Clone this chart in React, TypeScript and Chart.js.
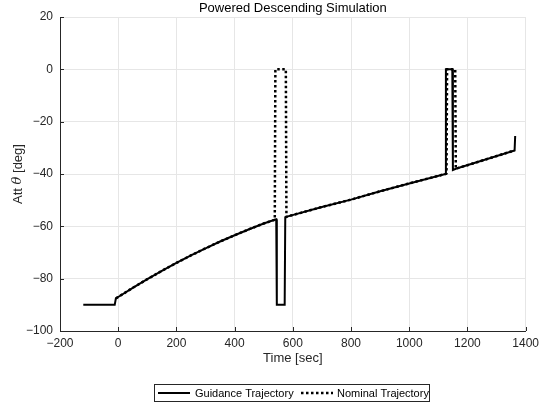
import React, { useEffect, useRef } from "react";
import { Chart, registerables } from "chart.js";

Chart.register(...registerables);

const guidanceTime = [-120, -12, -8, 0, 50, 100, 150, 200, 250, 300, 350, 400, 450, 500, 540, 543, 545, 572, 574, 580, 700, 800, 900, 1000, 1124, 1126, 1148, 1150, 1160, 1362, 1364];
const guidanceAtt = [-90, -90, -87.5, -87, -83.5, -80.2, -77.0, -74.0, -71.1, -68.4, -65.8, -63.4, -61.1, -58.9, -57.4, -57.3, -90, -90, -56.5, -56.3, -52.6, -49.8, -46.6, -43.6, -40, 0, 0, -38.5, -38, -31, -25.5];
const nominalTime = [-8, 0, 50, 100, 150, 200, 250, 300, 350, 400, 450, 500, 538, 540, 576, 578, 580, 700, 800, 900, 1000, 1124, 1128, 1130, 1158, 1160, 1362];
const nominalAtt = [-87.5, -87, -83.5, -80.2, -77.0, -74.0, -71.1, -68.4, -65.8, -63.4, -61.1, -58.9, -57.5, 0, 0, -56.4, -56.3, -52.6, -49.8, -46.6, -43.6, -40, -39.8, 0, 0, -38, -31];

const titleText = "Powered Descending Simulation";
const xTitle = "Time [sec]";
const seriesNames = ["Guidance Trajectory", "Nominal Trajectory"];
const xMin = -200, xMax = 1400, xStep = 200;
const yMin = -100, yMax = 20, yStep = 20;

const FONT = "'Liberation Sans', Arial, sans-serif";
const fmt = (v: number) => (v < 0 ? "\u2212" + Math.abs(v) : String(v));

const toPts = (xs: number[], ys: number[]) => xs.map((x, i) => ({ x, y: ys[i] }));

const decor = {
  id: "decor",
  afterDraw(chart: any) {
    const ctx = chart.ctx;
    const a = chart.chartArea;
    const xs = chart.scales.x;
    const ys = chart.scales.y;
    ctx.save();
    ctx.strokeStyle = "#262626";
    ctx.lineWidth = 1;
    ctx.beginPath();
    for (let v = xMin; v <= xMax; v += xStep) {
      const px = Math.round(xs.getPixelForValue(v)) + 0.5;
      ctx.moveTo(px, a.bottom);
      ctx.lineTo(px, a.bottom - 4);
    }
    for (let v = yMin; v <= yMax; v += yStep) {
      const py = Math.round(ys.getPixelForValue(v)) + 0.5;
      ctx.moveTo(a.left, py);
      ctx.lineTo(a.left + 4, py);
    }
    ctx.stroke();

    ctx.fillStyle = "#000";
    ctx.textAlign = "center";
    ctx.textBaseline = "middle";
    ctx.font = `13px ${FONT}`;
    ctx.fillText(titleText, (a.left + a.right) / 2, 8);

    ctx.fillStyle = "#262626";
    ctx.font = `13px ${FONT}`;
    ctx.fillText(xTitle, (a.left + a.right) / 2, 358);

    ctx.save();
    ctx.translate(18, (a.top + a.bottom) / 2);
    ctx.rotate(-Math.PI / 2);
    const parts = [
      { t: "Att ", f: `13px ${FONT}` },
      { t: "\u03b8", f: `italic 13px 'DejaVu Serif', serif` },
      { t: " [deg]", f: `13px ${FONT}` },
    ];
    let total = 0;
    for (const p of parts) { ctx.font = p.f; total += ctx.measureText(p.t).width; }
    let cx = -total / 2;
    ctx.textAlign = "left";
    for (const p of parts) {
      ctx.font = p.f;
      ctx.fillText(p.t, cx, 0);
      cx += ctx.measureText(p.t).width;
    }
    ctx.restore();

    const bx = 154.5, by = 384.5, bw = 275, bh = 17;
    ctx.fillStyle = "#fff";
    ctx.fillRect(bx, by, bw, bh);
    ctx.strokeStyle = "#262626";
    ctx.lineWidth = 1;
    ctx.strokeRect(bx, by, bw, bh);
    const cy = by + bh / 2;
    ctx.strokeStyle = "#000";
    ctx.lineWidth = 2;
    ctx.beginPath();
    ctx.moveTo(158, cy);
    ctx.lineTo(190, cy);
    ctx.stroke();
    ctx.lineWidth = 2.5;
    ctx.setLineDash([2.5, 2.5]);
    ctx.beginPath();
    ctx.moveTo(301, cy);
    ctx.lineTo(333, cy);
    ctx.stroke();
    ctx.setLineDash([]);
    ctx.fillStyle = "#000";
    ctx.font = `11px ${FONT}`;
    ctx.textAlign = "left";
    ctx.fillText(seriesNames[0], 195, cy + 0.5);
    ctx.fillText(seriesNames[1], 337, cy + 0.5);
    ctx.restore();
  },
};

export default function App() {
  const ref = useRef<HTMLCanvasElement>(null);
  useEffect(() => {
    if (!ref.current) return;
    const chart = new Chart(ref.current, {
      type: "scatter",
      data: {
        datasets: [
          {
            label: seriesNames[0],
            data: toPts(guidanceTime, guidanceAtt),
            showLine: true,
            borderColor: "#000",
            backgroundColor: "#000",
            borderWidth: 2,
            pointRadius: 0,
            tension: 0,
          },
          {
            label: seriesNames[1],
            data: toPts(nominalTime, nominalAtt),
            showLine: true,
            borderColor: "#000",
            backgroundColor: "#000",
            borderWidth: 2.5,
            borderDash: [2.5, 2.5],
            pointRadius: 0,
            tension: 0,
          },
        ],
      },
      options: {
        animation: false,
        responsive: false,
        maintainAspectRatio: false,
        layout: { padding: { top: 17, right: 16, left: 0, bottom: 0 } },
        plugins: { legend: { display: false }, title: { display: false }, tooltip: { enabled: false } },
        scales: {
          x: {
            type: "linear",
            min: xMin,
            max: xMax,
            afterFit: (s: any) => { s.height = 77; },
            ticks: {
              stepSize: xStep,
              padding: 5,
              color: "#262626",
              font: { family: FONT, size: 12 },
              callback: (v: any) => fmt(Number(v)),
              maxRotation: 0,
            },
            grid: { color: "#e6e6e6", drawTicks: false },
            border: { color: "#262626", width: 1 },
          },
          y: {
            type: "linear",
            min: yMin,
            max: yMax,
            afterFit: (s: any) => { s.width = 60; },
            ticks: {
              stepSize: yStep,
              padding: 7,
              color: "#262626",
              font: { family: FONT, size: 12 },
              callback: (v: any) => fmt(Number(v)),
            },
            grid: { color: "#e6e6e6", drawTicks: false },
            border: { color: "#262626", width: 1 },
          },
        },
      },
      plugins: [decor],
    });
    return () => chart.destroy();
  }, []);
  return (
    <div style={{ position: "fixed", left: 0, top: 0, width: 544, height: 408, background: "#fff" }}>
      <canvas ref={ref} width={544} height={408} style={{ display: "block" }} />
    </div>
  );
}
